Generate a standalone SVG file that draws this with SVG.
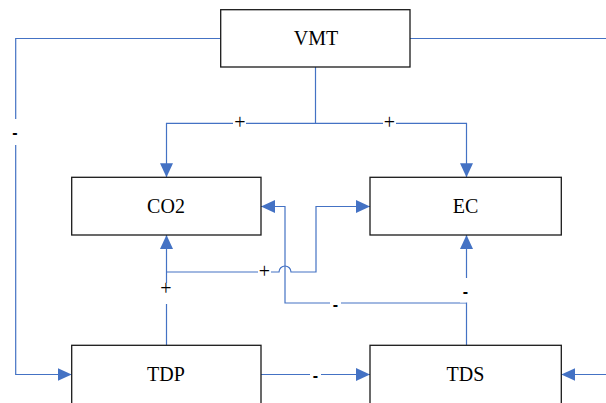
<svg xmlns="http://www.w3.org/2000/svg" width="606" height="403" viewBox="0 0 606 403">
<style>
.box{fill:#fff;stroke:#1a1a1a;stroke-width:1.3}
.lbl{font-family:"Liberation Serif","Times New Roman",serif;font-size:20px;fill:#000;text-anchor:middle}
.c{fill:none;stroke:#4472C4;stroke-width:1.2}
.sign{font-family:"Liberation Serif","Times New Roman",serif;font-size:20px;fill:#000;text-anchor:middle}
.dash{font-family:"Liberation Sans",Arial,sans-serif;font-weight:bold;font-size:16px;fill:#000;text-anchor:middle}
.gap{fill:#fff;stroke:none}
</style>
<defs>
<marker id="ah" viewBox="0 0 14 13" refX="14" refY="6.5" markerWidth="14" markerHeight="13" markerUnits="userSpaceOnUse" orient="auto">
<path d="M0,0 L14,6.5 L0,13 Z" fill="#4472C4"/>
</marker>
</defs>
<g id="connectors">
<path class="c" d="M220.7,38.5 H15.7 V374.5 H71.7" marker-end="url(#ah)"/>
<path class="c" d="M410,38.5 H606"/>
<path class="c" d="M606,374.5 H561.3" marker-end="url(#ah)"/>
<path class="c" d="M315.5,67 V123.3 H166.5 V177.3" marker-end="url(#ah)"/>
<path class="c" d="M315.5,123.3 H466.5 V177.3" marker-end="url(#ah)"/>
<path class="c" d="M261,374.5 H370" marker-end="url(#ah)"/>
<path class="c" d="M166.5,345.3 V235" marker-end="url(#ah)"/>
<path class="c" d="M166.5,272 H279 A6,6 0 0 1 291,272 H316 V206.5 H370" marker-end="url(#ah)"/>
<path class="c" d="M466.5,345.3 V303 H285 V206.5 H261" marker-end="url(#ah)"/>
<path class="c" d="M466.5,303 V235" marker-end="url(#ah)"/>
<rect class="gap" x="9" y="119" width="13" height="26"/>
<text class="dash" x="15" y="138">-</text>
<rect class="gap" x="233" y="117" width="13" height="12"/>
<text class="sign" x="240" y="128.5">+</text>
<rect class="gap" x="383" y="117" width="13" height="12"/>
<text class="sign" x="389.5" y="128.5">+</text>
<rect class="gap" x="158" y="283" width="17" height="21"/>
<text class="sign" x="166" y="295">+</text>
<rect class="gap" x="258" y="266" width="13" height="12"/>
<text class="sign" x="264.5" y="277.5">+</text>
<rect class="gap" x="460" y="278" width="13" height="24.5"/>
<text class="dash" x="465.5" y="297">-</text>
<rect class="gap" x="330" y="300" width="11" height="7"/>
<text class="dash" x="335.5" y="310">-</text>
<rect class="gap" x="310" y="370" width="11" height="9"/>
<text class="dash" x="315.5" y="381">-</text>
</g>
<g id="VMT">
<rect class="box" x="220.7" y="9.7" width="189.3" height="57.3"/>
<text class="lbl" x="316" y="45">VMT</text>
</g>
<g id="CO2">
<rect class="box" x="71.7" y="177.3" width="189.3" height="57.7"/>
<text class="lbl" x="166" y="213">CO2</text>
</g>
<g id="EC">
<rect class="box" x="370" y="177.3" width="191.3" height="57.7"/>
<text class="lbl" x="465.5" y="213">EC</text>
</g>
<g id="TDP">
<rect class="box" x="71.7" y="345.3" width="189.3" height="70"/>
<text class="lbl" x="166" y="380.5">TDP</text>
</g>
<g id="TDS">
<rect class="box" x="370" y="345.3" width="191.3" height="70"/>
<text class="lbl" x="465.5" y="380.5">TDS</text>
</g>
</svg>
